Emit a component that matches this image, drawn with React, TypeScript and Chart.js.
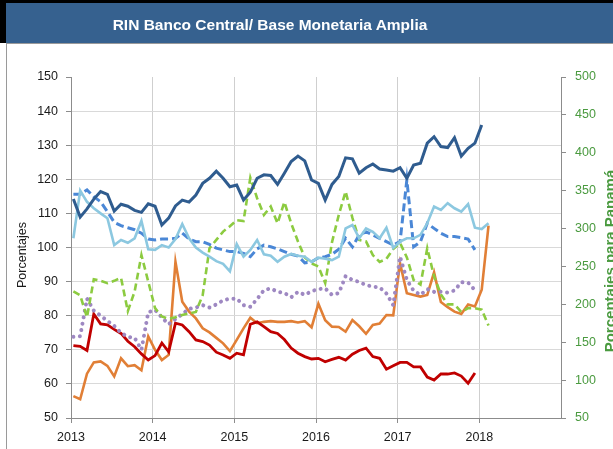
import React, { useEffect, useRef } from 'react';
import { Chart, registerables } from 'chart.js';

Chart.register(...registerables);

const START_YEAR = 2013;
const MONTH_OFFSET = 0.35;
const X_MIN = 2013;
const X_MAX = 2019;
const LAST_LABEL_YEAR = 2018;

const darkBlue = [114.2, 108.9, 111.3, 114.2, 116.4, 115.6, 110.7, 112.7, 112.1, 110.9, 110.3, 112.8, 112.1, 106.6, 108.6, 112.2, 113.9, 113.3, 115.4, 118.8, 120.3, 122.4, 120.3, 117.8, 118.3, 113.9, 116.2, 120.3, 121.3, 121.1, 118.5, 121.8, 125.2, 126.8, 125.4, 119.8, 118.8, 113.9, 118.5, 120.8, 126.3, 126.0, 121.8, 123.4, 124.5, 123.0, 122.7, 122.4, 123.4, 120.3, 124.2, 124.7, 130.6, 132.5, 129.6, 129.3, 132.2, 126.8, 129.1, 130.6, 135.9];
const mediumBlue = [115.6, 115.6, 116.9, 114.9, 113.4, 110.5, 107.4, 106.4, 105.8, 105.2, 104.2, 102.5, 102.2, 102.5, 102.5, 102.7, 104.2, 102.5, 101.7, 101.7, 100.9, 99.8, 99.3, 98.8, 98.8, 98.3, 97.3, 99.6, 100.7, 100.2, 99.6, 98.8, 98.0, 97.5, 95.5, 95.8, 97.0, 97.3, 98.0, 99.5, 102.7, 100.2, 103.7, 104.6, 103.7, 102.7, 101.7, 100.7, 101.7, 119.8, 100.2, 101.7, 107.1, 105.6, 104.2, 103.2, 103.2, 102.9, 102.5, 99.3];
const lightBlue = [102.7, 116.7, 113.4, 111.5, 110.0, 108.6, 100.7, 102.2, 101.4, 102.7, 107.8, 99.5, 99.3, 100.7, 100.0, 102.5, 106.9, 102.7, 100.0, 98.5, 97.3, 96.0, 95.2, 93.0, 101.0, 97.3, 99.3, 102.2, 98.0, 97.6, 95.8, 97.3, 98.1, 97.6, 97.3, 95.8, 97.0, 96.7, 96.3, 97.3, 105.6, 106.6, 102.7, 105.6, 104.6, 102.7, 105.8, 99.9, 101.7, 102.7, 102.7, 103.7, 107.1, 112.0, 111.0, 113.0, 111.5, 110.5, 112.7, 105.8, 105.4, 107.1];
const greenPanama = [217, 212, 183, 233, 231, 228, 231, 235, 191, 217, 265, 230, 195, 184, 181, 183, 186, 188, 190, 212, 274, 285, 296, 303, 311, 310, 367, 340, 318, 329, 307, 335, 307, 283, 262, 254, 250, 228, 282, 318, 349, 314, 285, 283, 265, 256, 260, 273, 281, 262, 232, 226, 274, 237, 213, 200, 200, 190, 195, 195, 193, 172];
const purpleDots = [73.8, 74.0, 85.0, 81.5, 80.0, 78.5, 77.0, 75.0, 73.8, 73.5, 70.0, 81.0, 81.7, 79.5, 77.5, 79.0, 80.5, 82.0, 82.4, 83.1, 82.4, 83.3, 84.5, 85.0, 85.0, 83.1, 82.6, 84.9, 87.5, 88.0, 87.0, 86.7, 85.4, 87.0, 86.1, 87.2, 87.8, 88.0, 86.1, 86.6, 91.6, 90.5, 89.9, 89.0, 88.5, 88.3, 86.5, 83.1, 97.3, 90.5, 87.3, 86.1, 87.8, 87.0, 87.0, 86.8, 87.4, 89.8, 89.7, 87.5];
const redLine = [71.2, 71.0, 69.8, 80.5, 77.6, 77.3, 76.0, 74.8, 72.5, 70.9, 68.8, 67.0, 68.3, 72.0, 69.4, 77.8, 77.3, 75.3, 72.9, 72.4, 71.4, 69.3, 68.5, 67.5, 69.0, 68.5, 77.5, 78.2, 76.8, 75.3, 74.8, 73.0, 70.5, 69.0, 68.0, 67.3, 67.5, 66.5, 67.2, 67.8, 67.0, 68.7, 69.8, 70.5, 68.0, 67.5, 64.3, 65.3, 66.3, 66.3, 65.0, 65.0, 62.0, 61.1, 62.9, 62.9, 63.2, 62.3, 60.2, 63.2];
const orangeLine = [56.4, 55.5, 63.0, 66.3, 66.6, 65.3, 62.2, 67.5, 65.2, 65.5, 64.0, 73.9, 70.0, 67.0, 68.5, 95.8, 84.1, 81.2, 79.2, 76.3, 75.1, 73.5, 71.9, 69.6, 72.9, 76.3, 79.4, 77.8, 78.2, 78.4, 78.2, 78.2, 78.4, 78.0, 78.4, 76.6, 83.5, 78.7, 76.8, 76.7, 75.3, 78.7, 76.9, 74.7, 77.3, 77.7, 80.2, 80.1, 95.4, 86.6, 86.1, 85.6, 86.1, 92.7, 84.0, 82.5, 81.2, 80.5, 83.3, 82.7, 87.6, 106.4];

const FONT = '"Liberation Sans", Arial, sans-serif';

const toPoints = (arr: number[]) =>
  arr.map((v, i) => ({ x: START_YEAR + (i + MONTH_OFFSET) / 12, y: v }));

export default function App() {
  const ref = useRef<HTMLCanvasElement>(null);

  useEffect(() => {
    document.body.style.margin = '0';
    const canvas = ref.current!;
    const base = { pointRadius: 0, pointHoverRadius: 0, tension: 0, fill: false };
    const chart = new Chart(canvas, {
      type: 'line',
      data: {
        datasets: [
          { ...base, label: 'darkBlue', data: toPoints(darkBlue), borderColor: '#2F5C8F', borderWidth: 3, yAxisID: 'y' },
          { ...base, label: 'lightBlue', data: toPoints(lightBlue), borderColor: '#8CC8E0', borderWidth: 2.6, yAxisID: 'y' },
          { ...base, label: 'mediumBlue', data: toPoints(mediumBlue), borderColor: '#4A87D6', borderWidth: 3, borderDash: [8, 4], yAxisID: 'y' },
          { ...base, label: 'green', data: toPoints(greenPanama), borderColor: '#8CCB40', borderWidth: 2.6, borderDash: [7, 4], yAxisID: 'y1' },
          { ...base, label: 'purple', data: toPoints(purpleDots), borderColor: '#9E88C2', borderWidth: 4, borderDash: [0.01, 6.5], borderCapStyle: 'round', yAxisID: 'y' },
          { ...base, label: 'red', data: toPoints(redLine), borderColor: '#C00000', borderWidth: 2.8, yAxisID: 'y' },
          { ...base, label: 'orange', data: toPoints(orangeLine), borderColor: '#E17F36', borderWidth: 2.6, yAxisID: 'y' },
        ] as any,
      },
      options: {
        responsive: false,
        animation: false,
        devicePixelRatio: 1,
        layout: { padding: { top: 77, left: 0, right: 0, bottom: 0 } },
        plugins: { legend: { display: false }, tooltip: { enabled: false }, title: { display: false } },
        scales: {
          x: {
            type: 'linear',
            min: X_MIN,
            max: X_MAX,
            afterBuildTicks: (s: any) => {
              const t = [];
              for (let y = X_MIN; y <= X_MAX; y++) t.push({ value: y });
              s.ticks = t;
            },
            ticks: {
              autoSkip: false,
              maxRotation: 0,
              padding: 7,
              color: '#1a1a1a',
              font: { family: FONT, size: 12.5 },
              callback: (v: any) => (v <= LAST_LABEL_YEAR ? String(v) : ''),
            },
            grid: {
              color: (c: any) => (c.tick && (c.tick.value === X_MIN || c.tick.value === X_MAX) ? 'rgba(0,0,0,0)' : '#cfcfcf'),
              tickColor: (c: any) => (c.tick && c.tick.value === X_MAX ? 'rgba(0,0,0,0)' : '#8c8c8c'),
              tickLength: 5,
            },
            border: { color: '#8c8c8c', width: 1 },
            afterFit: (s: any) => { s.height = 31; },
          },
          y: {
            position: 'left',
            min: 50,
            max: 150,
            ticks: { stepSize: 10, padding: 8, color: '#1a1a1a', font: { family: FONT, size: 12.5 } },
            grid: {
              color: (c: any) => (c.tick && (c.tick.value === 150 || c.tick.value === 50) ? 'rgba(0,0,0,0)' : '#d9d9d9'),
              tickColor: '#8c8c8c',
              tickLength: 5,
            },
            border: { color: '#8c8c8c', width: 1 },
            afterFit: (s: any) => { s.width = 71; },
          },
          y1: {
            position: 'right',
            min: 50,
            max: 500,
            ticks: { stepSize: 50, padding: 9, color: '#4A9A3F', font: { family: FONT, size: 12.5 } },
            grid: { drawOnChartArea: false, tickColor: '#8c8c8c', tickLength: 5 },
            border: { color: '#8c8c8c', width: 1 },
            afterFit: (s: any) => { s.width = 52; },
          },
        },
      } as any,
    });
    return () => chart.destroy();
  }, []);

  return (
    <div style={{ position: 'relative', width: 613, height: 449, background: '#fff', overflow: 'hidden', fontFamily: FONT }}>
      <canvas ref={ref} width={613} height={449} style={{ position: 'absolute', left: 0, top: 0, width: 613, height: 449 }} />
      <div style={{ position: 'absolute', left: 0, top: 0, width: 613, height: 43, boxSizing: 'border-box', background: '#36618F', borderTop: '3px solid #000', borderLeft: '6px solid #000' }} />
      <div style={{ position: 'absolute', left: 0, top: 5, width: 540, height: 40, lineHeight: '40px', textAlign: 'center', color: '#fff', fontWeight: 'bold', fontSize: 15.5, whiteSpace: 'nowrap' }}>
        RIN Banco Central/ Base Monetaria Amplia
      </div>
      <div style={{ position: 'absolute', left: 6, top: 43, width: 607, height: 1, background: '#9a9a9a' }} />
      <div style={{ position: 'absolute', left: 6, top: 43, width: 1, height: 406, background: '#9a9a9a' }} />
      <div style={{ position: 'absolute', left: 22 - 60, top: 255 - 8, width: 120, height: 16, lineHeight: '16px', textAlign: 'center', fontSize: 12.5, color: '#1a1a1a', transform: 'rotate(-90deg)', whiteSpace: 'nowrap' }}>
        Porcentajes
      </div>
      <div style={{ position: 'absolute', left: 610 - 110, top: 261 - 8, width: 220, height: 16, lineHeight: '16px', textAlign: 'center', fontSize: 15, fontWeight: 'bold', color: '#4A9A3F', transform: 'rotate(-90deg)', whiteSpace: 'nowrap' }}>
        Porcentajes para Panamá
      </div>
    </div>
  );
}
